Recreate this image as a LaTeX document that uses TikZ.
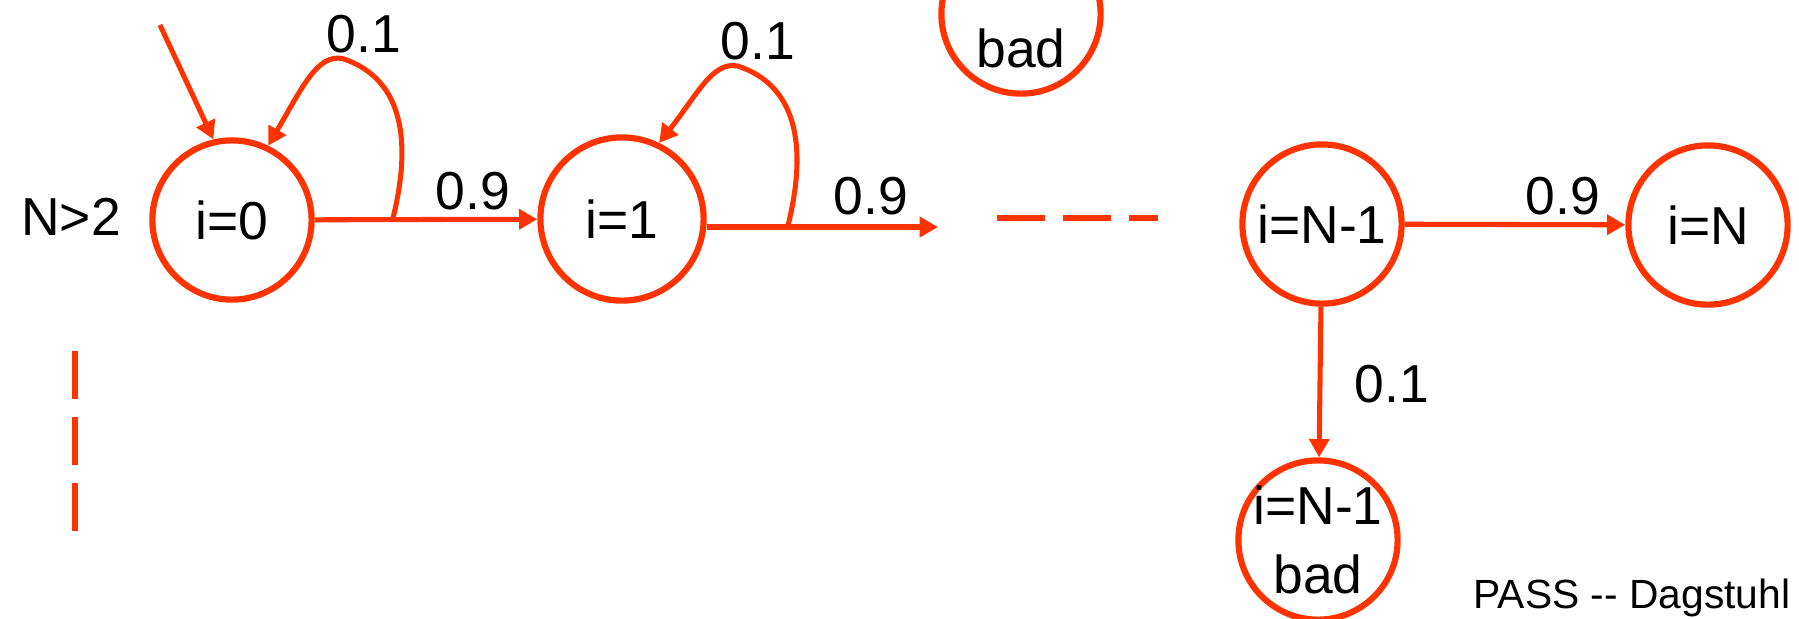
\documentclass[tikz,border=0pt]{standalone}
\usepackage{fontspec}
\setmainfont{Liberation Sans}
\usetikzlibrary{arrows.meta,calc}
\definecolor{chainred}{HTML}{FF3300}
\tikzset{
  chainstate/.style={circle,draw=chainred,line width=2.2pt,inner sep=-6pt,minimum size=1.99cm,align=center,font=\fontsize{19}{24.5}\selectfont},
  trans/.style={-{Triangle[length=6.5pt,width=7pt]},chainred,line width=1.8pt},
  prob/.style={font=\fontsize{19}{23}\selectfont,inner sep=0pt},
  gapdash/.style={chainred,line width=2.1pt,dash pattern=on 17.1pt off 6.4pt}
}
\begin{document}
\begin{tikzpicture}[x=0.0125cm,y=-0.0125cm]
\clip (0,0) rectangle (1799,618);
% states
\node[chainstate] (s0) at (232,220) {i=0};
\node[chainstate,minimum size=2.04cm] (s1) at (622,219) {i=1};
\node[chainstate] (sbadtop) at (1021,14) {i=N-1\\bad};
\node[chainstate] (sN1) at (1322,224) {i=N-1};
\node[chainstate] (sN) at (1708,225) {i=N};
\node[chainstate] (sbad) at (1318,540) {i=N-1\\bad};
\node[prob] (ncond) at (71,217) {N>2};
% transitions
\coordinate (init) at (160,25);
\draw[trans] (init) -- (s0.103);
\draw[trans] (s0) -- (s1) coordinate[pos=0.35] (loop0);
\coordinate (gap1) at (938,227);
\draw[trans] (s1.east |- gap1) -- (gap1) coordinate[pos=0.35] (loop1);
\foreach \s in {0,1}{
  \begin{scope}[shift={(loop\s)}]
  \draw[trans] (loop\s) .. controls (22,-88) and (5,-143) .. (-50,-161) .. controls (-75,-166) and (-90,-133) .. (s\s.64);
  \end{scope}
}
\draw[trans] (sN1) -- (sN);
\draw[trans] (sN1) -- (sbad);
% probabilities
\node[prob] (p00) at (364,34) {0.1};
\node[prob] (p01) at (473,191) {0.9};
\node[prob] (p11) at (758,41) {0.1};
\node[prob] (p12) at (871,196) {0.9};
\node[prob] (pN) at (1563,196) {0.9};
\node[prob] (pbad) at (1392,384) {0.1};
% omitted states
\draw[gapdash] (997,218) -- (1158,218);
\draw[gapdash] (75,351) -- (75,531);
\node[font=\fontsize{14.5}{17}\selectfont] (footer) at (1632,598) {PASS -{}- Dagstuhl};
\end{tikzpicture}
\end{document}
